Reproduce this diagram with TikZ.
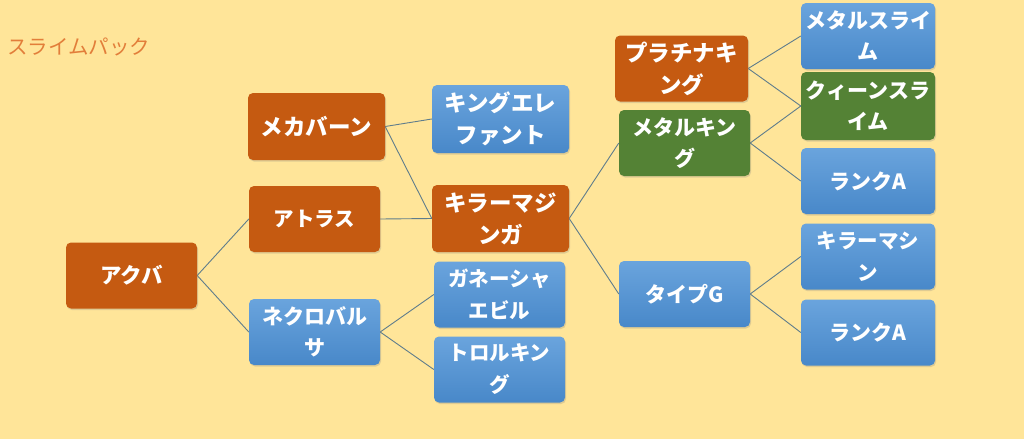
\documentclass[tikz,border=0pt]{standalone}
\usepackage{fontspec}
\newfontfamily\jp{Noto Sans CJK JP}
\usetikzlibrary{shadows,backgrounds}
\definecolor{bg}{RGB}{255,229,153}
\definecolor{org}{RGB}{197,90,17}
\definecolor{grn}{RGB}{84,130,53}
\definecolor{blu1}{RGB}{106,164,221}
\definecolor{blu2}{RGB}{72,136,201}
\definecolor{ln}{RGB}{95,125,140}
\definecolor{ttl}{RGB}{226,126,58}
\begin{document}
\begin{tikzpicture}[x=1pt,y=-1pt,
  box/.style={rounded corners=5pt, draw=none, text=white,
    font=\jp\bfseries\fontsize{20.5}{32}\selectfont, align=center, inner sep=0pt,
    minimum width=131pt, minimum height=66pt,
    drop shadow={shadow xshift=1pt, shadow yshift=-1.5pt, opacity=0.25}},
  obox/.style={box, fill=org},
  gbox/.style={box, fill=grn},
  bbox/.style={box, top color=blu1, bottom color=blu2},
  big/.style={font=\jp\bfseries\fontsize{22.5}{32}\selectfont},
  mid/.style={font=\jp\bfseries\fontsize{21}{31}\selectfont},
  conn/.style={draw=ln, line width=0.9pt}]
\useasboundingbox (0,0) rectangle (1024,439);
\node[anchor=west, text=ttl, font=\jp\fontsize{20.5}{21}\selectfont, inner sep=0pt] (title) at (7,47) {スライムパック};
\node[obox, font=\jp\bfseries\fontsize{21.5}{32}\selectfont] (akuba) at (131.5,275.5) {アクバ};
\node[obox, big, minimum width=137pt, minimum height=67pt] (meka) at (316.5,126.5) {メカバーン};
\node[obox] (atoras) at (314.5,219) {アトラス};
\node[bbox, mid] (nekuro) at (314.5,332) {ネクロバル\\サ};
\node[bbox, big, minimum width=137pt, minimum height=68pt] (kinge) at (500.5,119) {キングエレ\\ファント};
\node[obox, big, minimum width=137pt, minimum height=67pt] (killerm) at (500.5,218.5) {キラーマジ\\ンガ};
\node[bbox] (ganesha) at (499.5,294.5) {ガネーシャ\\エビル};
\node[bbox] (troll) at (499.5,369.5) {トロルキン\\グ};
\node[obox, big, minimum width=133pt] (plat) at (681.5,68.5) {プラチナキ\\ング};
\node[gbox, mid] (metalk) at (684.5,143) {メタルキン\\グ};
\node[bbox, mid] (typeg) at (684.5,294) {タイプG};
\node[bbox, mid, minimum width=134pt] (metals) at (868,36) {メタルスライ\\ム};
\node[gbox, mid, minimum width=134pt, minimum height=68pt] (queen) at (868,106) {クィーンスラ\\イム};
\node[bbox, mid, minimum width=134pt] (ranka1) at (868,181) {ランクA};
\node[bbox, minimum width=134pt] (killer) at (868,256.5) {キラーマシ\\ン};
\node[bbox, mid, minimum width=134pt] (ranka2) at (868,332.5) {ランクA};
\begin{scope}[on background layer]
\fill[bg] (0,0) rectangle (1024,439);
\draw[conn] (akuba.east) -- (atoras.west);
\draw[conn] (akuba.east) -- (nekuro.west);
\draw[conn] (meka.east) -- (kinge.west);
\draw[conn] (meka.east) -- (killerm.west);
\draw[conn] (atoras.east) -- (killerm.west);
\draw[conn] (nekuro.east) -- (ganesha.west);
\draw[conn] (nekuro.east) -- (troll.west);
\draw[conn] (killerm.east) -- (metalk.west);
\draw[conn] (killerm.east) -- (typeg.west);
\draw[conn] (plat.east) -- (metals.west);
\draw[conn] (plat.east) -- (queen.west);
\draw[conn] (metalk.east) -- (queen.west);
\draw[conn] (metalk.east) -- (ranka1.west);
\draw[conn] (typeg.east) -- (killer.west);
\draw[conn] (typeg.east) -- (ranka2.west);
\end{scope}
\end{tikzpicture}
\end{document}
